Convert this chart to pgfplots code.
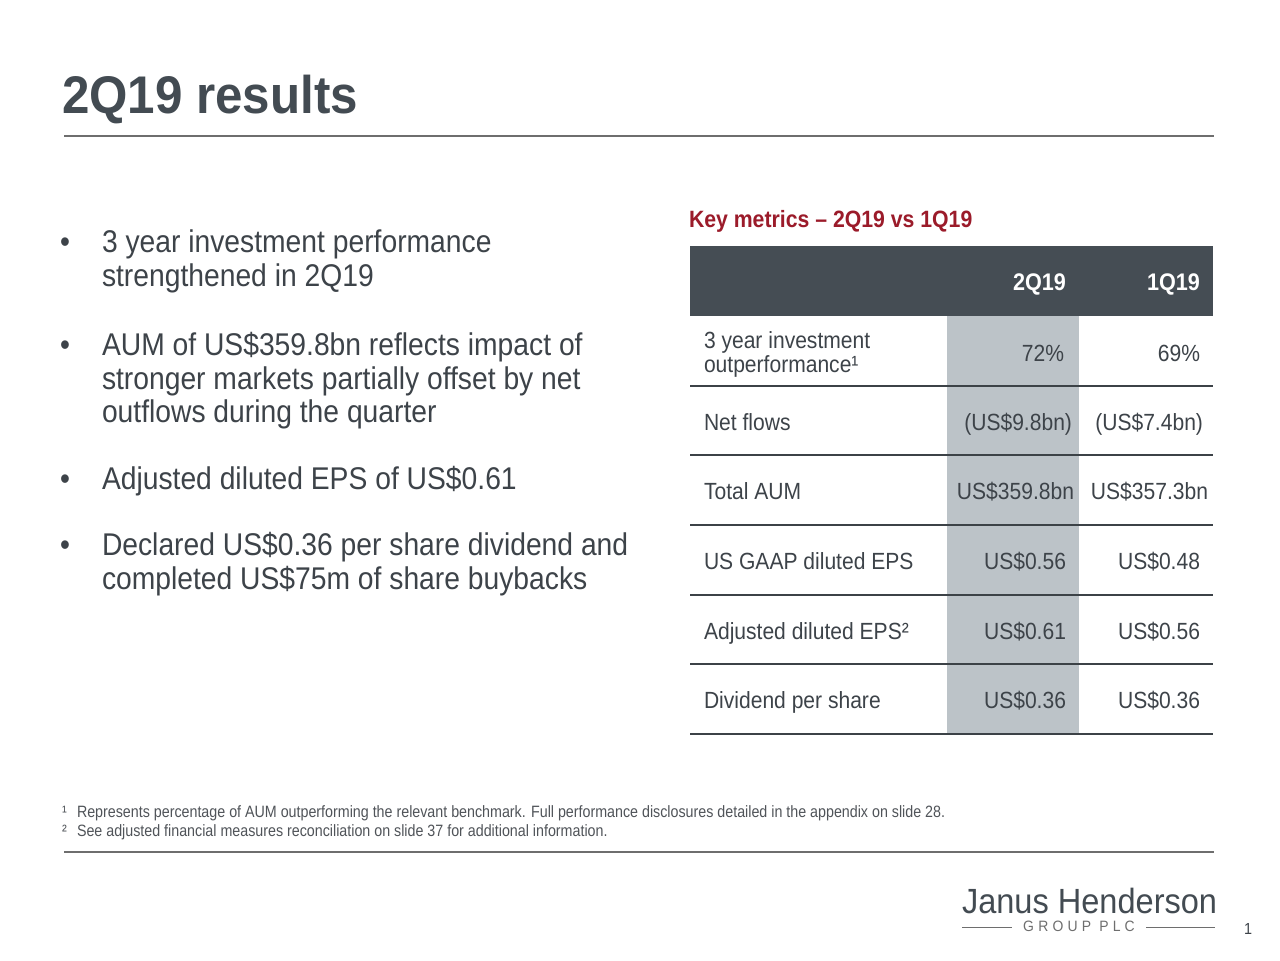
\documentclass[border=0pt]{standalone}
\usepackage{fontspec}
\setmainfont{Liberation Sans}[FakeStretch=0.9]
\newfontfamily\titlefont{Liberation Sans}[FakeStretch=0.93]
\newfontfamily\footfont{Liberation Sans}[FakeStretch=0.87]
\newfontfamily\logofont{Liberation Sans}[FakeStretch=0.93]
\usepackage{pgfplots}
\pgfplotsset{compat=1.18}
\definecolor{txt}{HTML}{3D4349}
\definecolor{ttl}{HTML}{434B52}
\definecolor{hdr}{HTML}{454D54}
\definecolor{hil}{HTML}{BCC3C8}
\definecolor{keyred}{HTML}{9B1B2A}
\definecolor{rule}{HTML}{6E6E6E}
\definecolor{tline}{HTML}{3C4247}
\definecolor{foot}{HTML}{505459}
\newcommand{\fs}[1]{\fontsize{#1}{#1}\selectfont}
\begin{document}
\begin{tikzpicture}[every node/.style={inner sep=0pt, outer sep=0pt}]
\begin{axis}[
  scale only axis, width=640pt, height=480pt,
  xmin=0, xmax=1280, ymin=0, ymax=960, y dir=reverse,
  axis lines=none, ticks=none, clip=false,
]
\fill[white] (axis cs:0,0) rectangle (axis cs:1280,960);
% title
\node[inner sep=0pt, anchor=base west, text=ttl] at (axis cs:62,113) {\titlefont\fs{26.5pt}\bfseries 2Q19 results};
\draw[rule, line width=1pt] (axis cs:64,136) -- (axis cs:1214,136);
\draw[rule, line width=1pt] (axis cs:64,852) -- (axis cs:1214,852);
% bullets
\begin{scope}[every node/.append style={inner sep=0pt, text=txt, anchor=base west}]
\node at (axis cs:60,252) {\fs{15.7pt}•};
\node at (axis cs:102,252) {\fs{15.7pt}3 year investment performance};
\node at (axis cs:102,286) {\fs{15.7pt}strengthened in 2Q19};
\node at (axis cs:60,355) {\fs{15.7pt}•};
\node at (axis cs:102,355) {\fs{15.7pt}AUM of US\$359.8bn reflects impact of};
\node at (axis cs:102,389) {\fs{15.7pt}stronger markets partially offset by net};
\node at (axis cs:102,422) {\fs{15.7pt}outflows during the quarter};
\node at (axis cs:60,489) {\fs{15.7pt}•};
\node at (axis cs:102,489) {\fs{15.7pt}Adjusted diluted EPS of US\$0.61};
\node at (axis cs:60,555) {\fs{15.7pt}•};
\node at (axis cs:102,555) {\fs{15.7pt}Declared US\$0.36 per share dividend and};
\node at (axis cs:102,589) {\fs{15.7pt}completed US\$75m of share buybacks};
\end{scope}
% key metrics
\node[inner sep=0pt, anchor=base west, text=keyred] at (axis cs:689,227) {\fs{11.8pt}\bfseries Key metrics – 2Q19 vs 1Q19};
\fill[hdr] (axis cs:690,246) rectangle (axis cs:1213,316);
\fill[hil] (axis cs:947,316) rectangle (axis cs:1079,734);
\node[inner sep=0pt, anchor=base east, text=white] at (axis cs:1066,290) {\fs{12pt}\bfseries 2Q19};
\node[inner sep=0pt, anchor=base east, text=white] at (axis cs:1200,290) {\fs{12pt}\bfseries 1Q19};
\pgfplotsinvokeforeach{386,455,525,595,664,734}{
  \draw[tline, line width=1pt] (axis cs:690,#1) -- (axis cs:1213,#1);
}
\begin{scope}[every node/.append style={inner sep=0pt, text=txt}]
\node[anchor=base west] at (axis cs:704,348) {\fs{11.7pt}3 year investment};
\node[anchor=base west] at (axis cs:704,372) {\fs{11.7pt}outperformance¹};
\node[anchor=base east] at (axis cs:1064,361) {\fs{11.7pt}72\%};
\node[anchor=base east] at (axis cs:1200,361) {\fs{11.7pt}69\%};
\node[anchor=base west] at (axis cs:704,430) {\fs{11.7pt}Net flows};
\node[anchor=base east] at (axis cs:1072,430) {\fs{11.7pt}(US\$9.8bn)};
\node[anchor=base east] at (axis cs:1203,430) {\fs{11.7pt}(US\$7.4bn)};
\node[anchor=base west] at (axis cs:704,499) {\fs{11.7pt}Total AUM};
\node[anchor=base east] at (axis cs:1074,499) {\fs{11.7pt}US\$359.8bn};
\node[anchor=base east] at (axis cs:1208,499) {\fs{11.7pt}US\$357.3bn};
\node[anchor=base west] at (axis cs:704,569) {\fs{11.7pt}US GAAP diluted EPS};
\node[anchor=base east] at (axis cs:1066,569) {\fs{11.7pt}US\$0.56};
\node[anchor=base east] at (axis cs:1200,569) {\fs{11.7pt}US\$0.48};
\node[anchor=base west] at (axis cs:704,639) {\fs{11.7pt}Adjusted diluted EPS²};
\node[anchor=base east] at (axis cs:1066,639) {\fs{11.7pt}US\$0.61};
\node[anchor=base east] at (axis cs:1200,639) {\fs{11.7pt}US\$0.56};
\node[anchor=base west] at (axis cs:704,708) {\fs{11.7pt}Dividend per share};
\node[anchor=base east] at (axis cs:1066,708) {\fs{11.7pt}US\$0.36};
\node[anchor=base east] at (axis cs:1200,708) {\fs{11.7pt}US\$0.36};
\end{scope}
% footnotes
\begin{scope}[every node/.append style={inner sep=0pt, text=foot, anchor=base west}]
\node at (axis cs:62,817) {\footfont\fs{8.2pt}¹};
\node at (axis cs:77,817) {\footfont\fs{8.2pt}Represents percentage of AUM outperforming the relevant benchmark. Full performance disclosures detailed in the appendix on slide 28.};
\node at (axis cs:62,836) {\footfont\fs{8.2pt}²};
\node at (axis cs:77,836) {\footfont\fs{8.2pt}See adjusted financial measures reconciliation on slide 37 for additional information.};
\end{scope}
% logo
\node[inner sep=0pt, anchor=base west, text=ttl] at (axis cs:962,913) {\logofont\fs{17.5pt}Janus Henderson};
\node[inner sep=0pt, anchor=base, text=rule] at (axis cs:1079,931) {\logofont\addfontfeature{LetterSpace=28}\fs{7.5pt}GROUP PLC};
\draw[rule, line width=0.5pt] (axis cs:962,927) -- (axis cs:1012,927);
\draw[rule, line width=0.5pt] (axis cs:1146,927) -- (axis cs:1215,927);
\node[inner sep=0pt, anchor=base, text=txt] at (axis cs:1248,934) {\fs{8pt}1};
\end{axis}
\end{tikzpicture}
\end{document}
